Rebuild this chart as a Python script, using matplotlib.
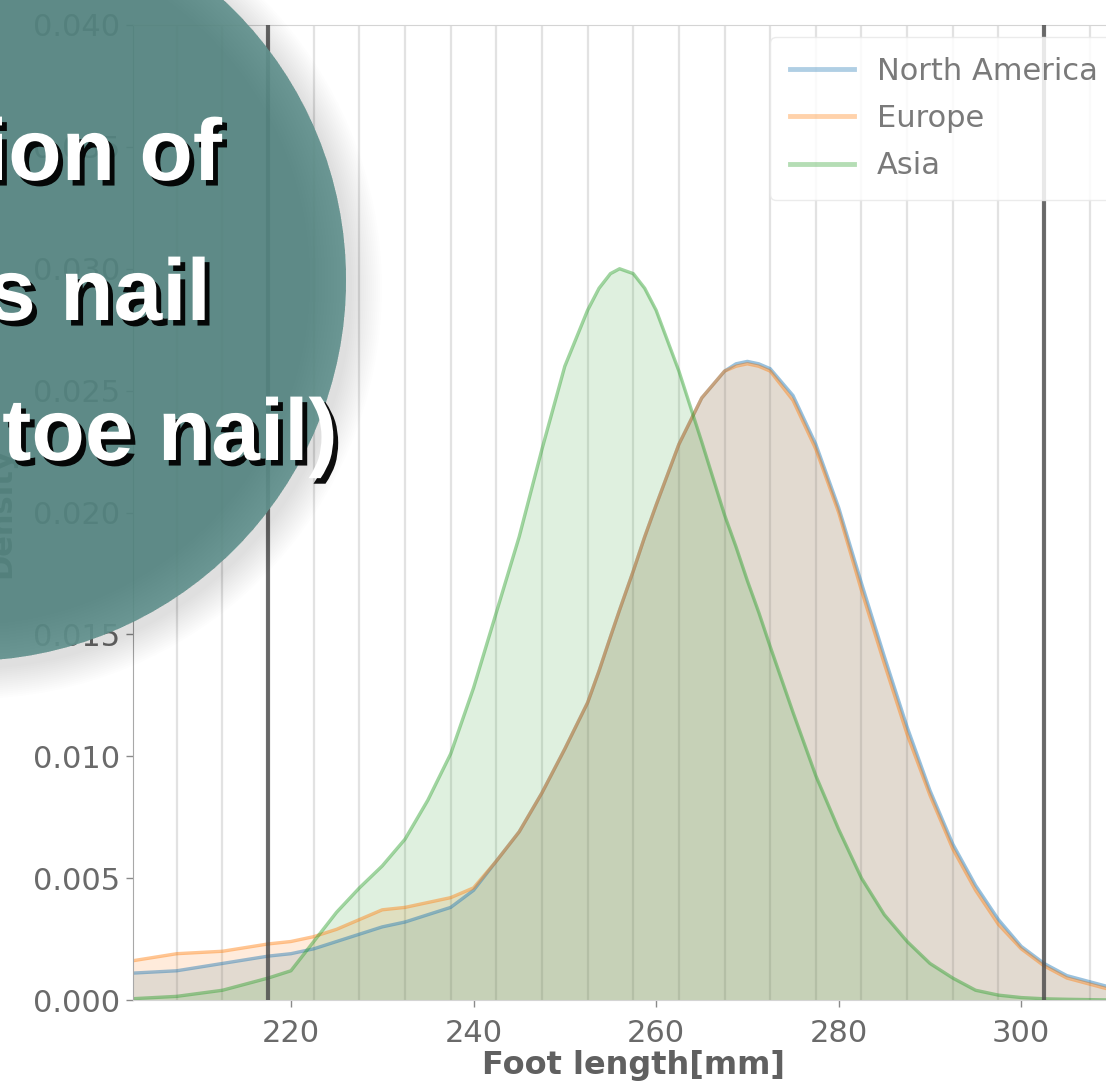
"""
foot_length_kde.py

Density of foot length by region, with a teal title badge laid over the
top-left corner. Output: out.png (1106 x 1086 px).
"""

import matplotlib.pyplot as plt
from matplotlib.patches import Circle, Wedge
from matplotlib.ticker import FormatStrFormatter
import matplotlib.patheffects as pe

# ── data (mm, density) ──────────────────────────────────────────────────
FOOT_MM = [202.5, 207.5, 212.5, 217.5, 220.0, 222.5, 225.0, 227.5, 230.0,
           232.5, 235.0, 237.5, 240.0, 242.5, 245.0, 247.5, 250.0, 252.5,
           253.75, 255.0, 256.0, 257.5, 258.75, 260.0, 262.5, 265.0, 267.5,
           268.75, 270.0, 271.25, 272.5, 275.0, 277.5, 280.0, 282.5, 285.0,
           287.5, 290.0, 292.5, 295.0, 297.5, 300.0, 302.5, 305.0, 310.0, 316.0]

NORTH_AMERICA = [0.0011, 0.0012, 0.0015, 0.0018, 0.0019, 0.0021, 0.0024, 0.0027, 0.0030,
                 0.0032, 0.0035, 0.0038, 0.0045, 0.0057, 0.0069, 0.0085, 0.0103, 0.0122,
                 0.0135, 0.0149, 0.0160, 0.0176, 0.0190, 0.0203, 0.0228, 0.0247, 0.0258,
                 0.0261, 0.0262, 0.0261, 0.0259, 0.0248, 0.0228, 0.0202, 0.0171, 0.0141,
                 0.0112, 0.0086, 0.0064, 0.0047, 0.0033, 0.0022, 0.0015, 0.0010, 0.0005,
                 0.0002]

EUROPE = [0.0016, 0.0019, 0.0020, 0.0023, 0.0024, 0.0026, 0.0029, 0.0033, 0.0037,
          0.0038, 0.0040, 0.0042, 0.0046, 0.0057, 0.0069, 0.0085, 0.0103, 0.0122,
          0.0135, 0.0149, 0.0160, 0.0176, 0.0190, 0.0203, 0.0228, 0.0247, 0.0258,
          0.0260, 0.0261, 0.0260, 0.0258, 0.0246, 0.0226, 0.0200, 0.0168, 0.0138,
          0.0109, 0.0084, 0.0062, 0.0045, 0.0031, 0.0021, 0.0014, 0.0009, 0.0004,
          0.0002]

ASIA = [0.00005, 0.00015, 0.0004, 0.0009, 0.0012, 0.0024, 0.0036, 0.0046, 0.0055,
        0.0066, 0.0082, 0.0101, 0.0128, 0.0159, 0.0190, 0.0226, 0.0260, 0.0283,
        0.0292, 0.0298, 0.0300, 0.0298, 0.0292, 0.0283, 0.0258, 0.0229, 0.0199,
        0.0186, 0.0172, 0.0159, 0.0145, 0.0118, 0.0092, 0.0070, 0.0050, 0.0035,
        0.0024, 0.0015, 0.0009, 0.0004, 0.0002, 0.0001, 0.00005, 0.00003, 0.0,
        0.0]

REGIONS = ["North America", "Europe", "Asia"]
COLORS = {"North America": "#1f77b4", "Europe": "#ff7f0e", "Asia": "#2ca02c"}

SIZE_EDGES = [207.5 + 5 * k for k in range(22)]   # thin vertical lines
RANGE_LIMITS = [217.5, 302.5]                     # dark vertical lines

Y_TICKS = [0.000, 0.005, 0.010, 0.015, 0.020, 0.025, 0.030, 0.035, 0.040]
X_TICKS = [220, 240, 260, 280, 300]

TITLE_LINES = ["ion of", "s nail", "toe nail)"]

W, H = 1106, 1086
GRAY = "#6a6a6a"


def draw_chart(fig):
    ax = fig.add_axes([133 / W, (H - 1000) / H, 1027 / W, 975 / H])
    ax.set_xlim(202.7, 315.2)
    ax.set_ylim(0, 0.040)

    for x in SIZE_EDGES:
        ax.axvline(x, color="#e2e2e2", lw=1.6, zorder=0)
    for x in RANGE_LIMITS:
        ax.axvline(x, color="#4a4a4a", lw=3.0, alpha=0.8, zorder=4)

    series = {"North America": NORTH_AMERICA, "Europe": EUROPE, "Asia": ASIA}
    for name in REGIONS:
        y = series[name]
        ax.fill_between(FOOT_MM, 0, y, color=COLORS[name], alpha=0.15, lw=0, zorder=1)
        ax.plot(FOOT_MM, y, color=COLORS[name], alpha=0.45, lw=2.4, label=name,
                zorder=2, solid_joinstyle="round")

    ax.set_yticks(Y_TICKS)
    ax.yaxis.set_major_formatter(FormatStrFormatter("%.3f"))
    ax.set_xticks(X_TICKS)
    ax.tick_params(labelsize=22, colors="#8a8a8a", length=5, width=1)
    ax.tick_params(axis="x", pad=9)
    ax.tick_params(axis="y", pad=4)
    for lab in ax.get_xticklabels() + ax.get_yticklabels():
        lab.set_color(GRAY)

    for side in ["top", "right", "bottom", "left"]:
        ax.spines[side].set_color("#d4d4d4")
    ax.spines["left"].set_color("#a8a8a8")

    ax.set_xlabel("Foot length[mm]", fontsize=23, fontweight="bold", color="#606060")
    ax.xaxis.set_label_coords(0.487, -0.051)
    ax.set_ylabel("Density", fontsize=22, fontweight="bold", color="#606060")
    ax.yaxis.set_label_coords(-0.114, 0.5)

    leg = ax.legend(loc="upper left", bbox_to_anchor=((770 - 133) / 1027, 0.988),
                    borderaxespad=0, fontsize=22, frameon=True, framealpha=0.85,
                    edgecolor="#e8e8e8", handlelength=2.1, handletextpad=0.75,
                    labelspacing=0.6, borderpad=0.65)
    for txt in leg.get_texts():
        txt.set_color("#7a7a7a")
    for h in leg.get_lines():
        h.set_linewidth(3.5)
        h.set_alpha(0.35)
    return ax


def draw_badge(fig):
    ov = fig.add_axes([0, 0, 1, 1])
    ov.set_xlim(0, W)
    ov.set_ylim(H, 0)
    ov.axis("off")
    ov.patch.set_alpha(0)

    cx, cy, r = -35, 280, 381
    # soft drop shadow
    for i in range(16):
        ov.add_patch(Circle((cx + 6, cy + 8), r + 2.0 * i, color="black",
                            alpha=0.009, lw=0))
    ov.add_patch(Circle((cx, cy), r, color="#548480", alpha=0.93, lw=0))
    # rim gets slightly lighter towards the edge
    for i in range(1, 13):
        ov.add_patch(Wedge((cx, cy), r, 0, 360, width=3.0 * i, color="#9cc6c2",
                           alpha=0.025, lw=0))

    shadow = [pe.withSimplePatchShadow(offset=(3.5, -4), shadow_rgbFace="black",
                                       alpha=0.95)]
    ends = [222, 211, 338]
    bases = [180, 320, 460]
    for line, xr, yb in zip(TITLE_LINES, ends, bases):
        ov.text(xr, yb, line, ha="right", va="baseline", color="white",
                fontsize=63, fontweight="bold", family=["Liberation Sans", "DejaVu Sans"],
                path_effects=shadow)


def main():
    fig = plt.figure(figsize=(W / 100, H / 100), dpi=100)
    fig.patch.set_facecolor("white")
    draw_chart(fig)
    draw_badge(fig)
    fig.savefig("out.png", dpi=100, facecolor="white")
    plt.close(fig)


if __name__ == "__main__":
    main()
